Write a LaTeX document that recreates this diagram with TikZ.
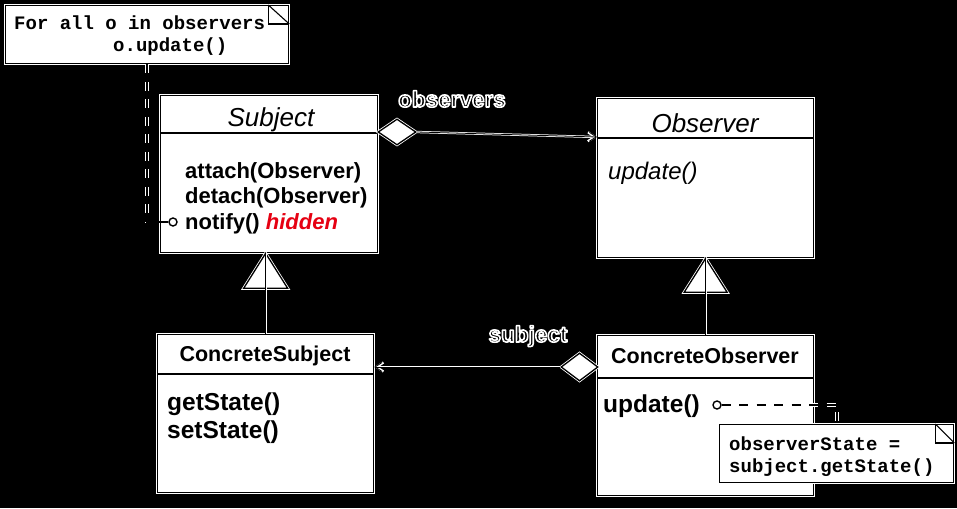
\documentclass[tikz,border=0pt]{standalone}
\usepackage{fontspec}
\setmainfont{Liberation Sans}
\newfontfamily\monof{Liberation Mono}
\usetikzlibrary{arrows.meta,shapes.geometric,calc}
\definecolor{hidred}{RGB}{230,0,18}
\newcommand\halotext[1]{\special{pdf:literal direct q 1 1 1 RG 1.6 w 1 j 2 Tr}#1\special{pdf:literal direct Q 0 Tr}}
\begin{document}
\begin{tikzpicture}[x=1pt,y=-1pt,
  box/.style={fill=white,draw=black,line width=1.3pt,preaction={draw=white,line width=2.9pt},inner sep=0pt,anchor=north west},
  conn/.style={draw=black,line width=0.8pt,preaction={draw=white,line width=2.3pt}},
  stub/.style={draw=black,line width=1.4pt,preaction={draw=white,line width=2.9pt}},
  dashconn/.style={draw=black,line width=2pt,dash pattern=on 9pt off 8.5pt,preaction={draw=white,line width=3.4pt,dash pattern=on 9pt off 8.5pt}},
  divider/.style={draw=black,line width=1.3pt},
  diam/.style={diamond,fill=white,draw=black,line width=1.3pt,preaction={draw=white,line width=2.9pt},inner sep=0pt,minimum width=38pt,minimum height=26pt},
  gen/.style={fill=white,draw=black,line width=1.3pt,preaction={draw=white,line width=2.9pt}},
  lolly/.style={circle,fill=white,draw=black,line width=1.4pt,minimum size=8pt,inner sep=0pt},
  txt/.style={inner sep=0pt,anchor=base west},
  ctxt/.style={inner sep=0pt,anchor=base},
  lbl/.style={inner sep=0pt,anchor=base,font=\bfseries\fontsize{22.5}{26}\selectfont},
  mono/.style={txt,font=\monof\bfseries\fontsize{19}{22}\selectfont},
  meth/.style={txt,font=\bfseries\fontsize{22}{26}\selectfont},
  bmeth/.style={txt,font=\bfseries\fontsize{24.5}{28}\selectfont},
  abst/.style={ctxt,font=\itshape\fontsize{26}{30}\selectfont},
  cname/.style={ctxt,font=\bfseries\fontsize{21.5}{25}\selectfont},
  fold/.style={draw=black,line width=1.1pt}]
\useasboundingbox[fill=black] (0,0) rectangle (957,508);

% ---------- classes ----------
\node[box,minimum width=217pt,minimum height=157pt] (subj) at (160,95) {};
\draw[divider] ($(subj.north west)+(0,38)$) -- ($(subj.north east)+(0,38)$);
\node[abst] (subjname) at (271,126) {Subject};
\node[meth] (m1) at (185,178) {attach(Observer)};
\node[meth] (m2) at (185,203) {detach(Observer)};
\node[meth] (m3) at (185,229) {notify() \textcolor{hidred}{\itshape hidden}};

\node[box,minimum width=216pt,minimum height=159pt] (obs) at (597,98) {};
\draw[divider] ($(obs.north west)+(0,40)$) -- ($(obs.north east)+(0,40)$);
\node[abst] (obsname) at (705,132) {Observer};
\node[txt,font=\itshape\fontsize{24}{28}\selectfont] (om1) at (608,179) {update()};

\node[box,minimum width=216pt,minimum height=158pt] (csub) at (157,334) {};
\draw[divider] ($(csub.north west)+(0,40)$) -- ($(csub.north east)+(0,40)$);
\node[cname] (csubname) at (265,361) {ConcreteSubject};
\node[bmeth] (cs1) at (167,410) {getState()};
\node[bmeth] (cs2) at (167,438) {setState()};

\node[box,minimum width=216pt,minimum height=160pt] (cobs) at (597,335) {};
\draw[divider] ($(cobs.north west)+(0,43)$) -- ($(cobs.north east)+(0,43)$);
\node[cname] (cobsname) at (705,363) {ConcreteObserver};
\node[bmeth] (co1) at (603,412) {update()};

% ---------- generalizations ----------
\coordinate (ap1) at (csub.north |- subj.south);
\draw[gen] (ap1) -- ++(-22,35) -- ++(44,0) -- cycle;
\draw[conn] (csub.north) -- (ap1);
\coordinate (ap2) at (cobs.north |- obs.south);
\draw[gen] (ap2) -- ++(-21.5,34) -- ++(43,0) -- cycle;
\draw[conn] (cobs.north) -- (ap2);

% ---------- aggregations ----------
\node[diam] (dia1) at (397,132) {};
\coordinate (obsin) at ($(obs.north west)+(0,39)$);
\draw[conn,-{Straight Barb[length=7pt,width=9pt]}] (dia1.east) -- (obsin);
\node[lbl] (obslbl) at (452,107) {\halotext{observers}};

\node[diam,minimum width=37pt,minimum height=28pt] (dia2) at (579.5,367) {};
\draw[conn,-{Straight Barb[length=7pt,width=9pt]}] (dia2.west) -- (csub.east |- dia2.west);
\node[lbl] (sublbl) at (528,342) {\halotext{subject}};

% ---------- note 1 ----------
\node[box,minimum width=283pt,minimum height=58pt] (note1) at (5,5) {};
\draw[fold] ($(note1.north east)+(-21,0)$) -- ++(0,19) -- ++(21,0);
\draw[fold] ($(note1.north east)+(-21,0)$) -- ++(21,19);
\node[mono] (n1a) at (14,30) {For all o in observers};
\node[mono] (n1b) at (113,52) {o.update()};
\node[lolly] (lp1) at (173,222) {};
\coordinate (k1) at (147,222);
\draw[dashconn] (note1.south west -| k1) -- (k1);
\draw[stub] (k1) -- (lp1.west);

% ---------- note 2 ----------
\node[lolly] (lp2) at (717,405) {};
\coordinate (k2) at (837,405);
\node[box,minimum width=234pt,minimum height=58pt] (note2) at (719,424) {};
\draw[dashconn] (lp2.east) -- (k2) -- (k2 |- note2.north);
\draw[fold] ($(note2.north east)+(-19,0)$) -- ++(0,19) -- ++(19,0);
\draw[fold] ($(note2.north east)+(-19,0)$) -- ++(19,19);
\node[mono] (n2a) at (729,450) {observerState =};
\node[mono] (n2b) at (729,472) {subject.getState()};
\end{tikzpicture}
\end{document}
